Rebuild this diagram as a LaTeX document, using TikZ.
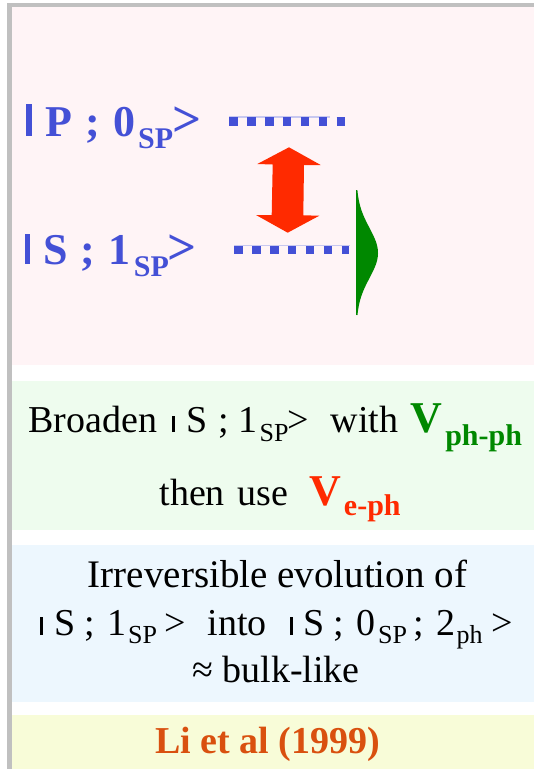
\documentclass[tikz,border=0pt]{standalone}
\usepackage{fontspec}
\setmainfont{Liberation Serif}
\newcommand{\fsz}[1]{\fontsize{#1}{#1}\selectfont}
\definecolor{bordergray}{RGB}{192,192,192}
\definecolor{pinkbg}{RGB}{255,244,246}
\definecolor{greenbg}{RGB}{238,252,238}
\definecolor{bluebg}{RGB}{237,247,254}
\definecolor{yellowbg}{RGB}{248,252,216}
\definecolor{lvlblue}{RGB}{68,80,214}
\definecolor{lvllight}{RGB}{200,200,240}
\definecolor{arrred}{RGB}{255,42,0}
\definecolor{gaussgreen}{RGB}{0,136,0}
\definecolor{refor}{RGB}{217,80,15}
\tikzset{
  txt/.style={anchor=base west, inner sep=0pt, outer sep=0pt},
  ctxt/.style={anchor=base, inner sep=0pt, outer sep=0pt},
  lvl/.style={lvlblue, line width=8.4pt, dash pattern=on 8.4pt off 9.5pt},
  lvlthin/.style={lvllight, line width=1.4pt}
}
\begin{document}
\begin{tikzpicture}[x=1pt,y=-1pt]
\useasboundingbox (0,0) rectangle (534,769);
\fill[white] (0,0) rectangle (534,769);
% frame and panels
\fill[bordergray] (7,3) rectangle (534,7);
\fill[bordergray] (7,3) rectangle (12,769);
\fill[pinkbg] (12,7) rectangle (534,365);
\fill[greenbg] (12,381) rectangle (534,530);
\fill[bluebg] (12,545) rectangle (534,702);
\fill[yellowbg] (12,715) rectangle (534,769);

% state labels
\node[txt, lvlblue, font=\bfseries\fsz{44}] (pstate) at (26.5,136)
  {\rule{5.5pt}{32pt}\hspace{14pt}P\hspace{12.8pt};\hspace{13.3pt}0\hspace{2.5pt}\raisebox{-12pt}{\fsz{30}SP}\hspace{-1pt}{\fsz{51}>}};
\node[txt, lvlblue, font=\bfseries\fsz{44}] (sstate) at (24.5,264)
  {\rule{5.5pt}{30pt}\hspace{13.5pt}S\hspace{13pt};\hspace{13.3pt}1\hspace{3pt}\raisebox{-12.5pt}{\fsz{30}SP}\hspace{-1pt}{\fsz{51}>}};

% energy levels
\coordinate (pL) at (229.3,121.3);
\coordinate (pR) at (345,121.3);
\coordinate (pT) at (330,117);
\coordinate (sL) at (234.3,250);
\coordinate (sR) at (349,250);
\coordinate (sT) at (350,245.6);
\draw[lvlthin] (pL |- pT) -- (pT);
\draw[lvlthin] (sL |- sT) -- (sT);
\draw[lvl] (pL) -- (pR);
\draw[lvl] (sL) -- (sR);

% red double arrow
\fill[arrred] (289,147.3) -- (320.7,165) -- (304,165) -- (303.3,215.3) -- (319.3,215.7)
  -- (287.7,232.7) -- (256,215) -- (271.7,215) -- (272.7,164.5) -- (257.3,164) -- cycle;

% green half gaussian
\fill[gaussgreen] (356.5,190) -- plot[domain=190:315, samples=100] ({356.5+21.5*exp(-0.5*((\x-253)/25)^2)}, \x) -- (356.5,315) -- cycle;
\draw[gaussgreen, line width=1.6pt] (356.5,190) -- (356.5,315);

% green panel
\node[txt, font=\fsz{38}] (bline1) at (28.4,432)
  {Broaden\hspace{15pt}\rule{2.6pt}{16pt}\hspace{11.5pt}S\hspace{11pt};\hspace{9.7pt}1\hspace{2pt}\raisebox{-9.7pt}{\fsz{26}SP}\hspace{-1pt}>\hspace{22pt}with\hspace{12pt}{\color{gaussgreen}\bfseries\fsz{44}V\hspace{3pt}\raisebox{-13pt}{\fsz{30}ph-ph}}};
\node[txt, font=\fsz{38}] (bline2) at (159.5,505)
  {then\hspace{12.6pt}use\hspace{21pt}{\color{arrred}\bfseries\fsz{44}V\hspace{3pt}\raisebox{-10pt}{\fsz{30}e-ph}}};

% blue panel
\node[ctxt, font=\fsz{39}] (iline1) at (277.5,587) {Irreversible evolution of};
\node[txt, font=\fsz{38}] (iline2) at (40,635)
  {\rule{2.6pt}{18pt}\hspace{11.5pt}S\hspace{9pt};\hspace{12.4pt}1\hspace{2pt}\raisebox{-8pt}{\fsz{26}SP}\hspace{7pt}>\hspace{22pt}into\hspace{23.5pt}\rule{2.6pt}{18pt}\hspace{10.5pt}S\hspace{9.3pt};\hspace{12.4pt}0\hspace{2.5pt}\raisebox{-8pt}{\fsz{26}SP}\hspace{6.6pt};\hspace{12.4pt}2\hspace{1pt}\raisebox{-8pt}{\fsz{26}ph}\hspace{9pt}>};
\node[ctxt, font=\fsz{38}] (iline3) at (276,682) {≈ bulk-like};

% reference
\node[ctxt, font=\bfseries\fsz{38}, refor] (ref) at (267.5,753) {Li et al (1999)};
\end{tikzpicture}
\end{document}
